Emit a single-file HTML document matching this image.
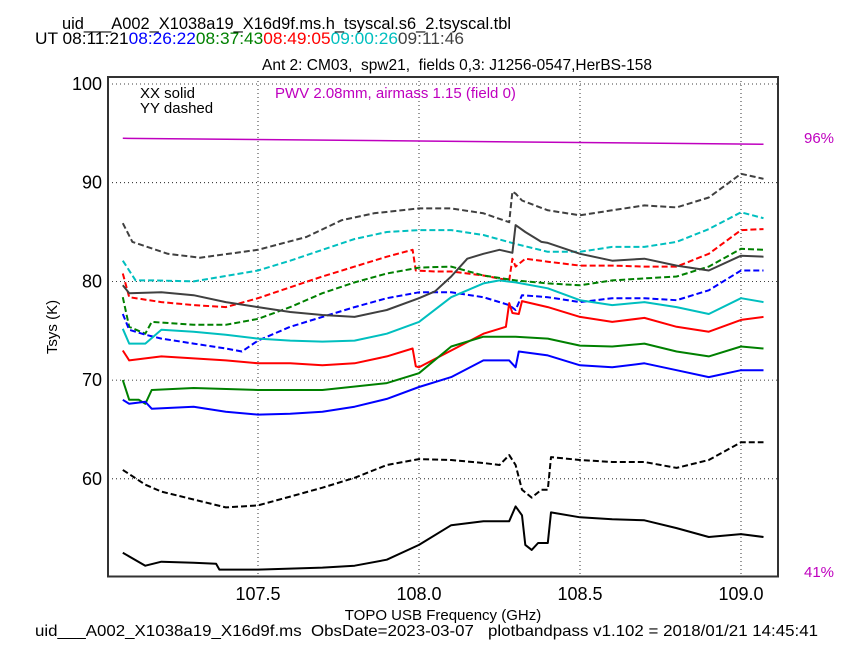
<!DOCTYPE html>
<html><head><meta charset="utf-8"><style>
body{margin:0;background:#fff;}
svg text{font-family:"Liberation Sans","DejaVu Sans",sans-serif;white-space:pre;}
</style></head><body>
<svg id="chart" width="864" height="648" viewBox="0 0 864 648" xmlns="http://www.w3.org/2000/svg" xml:space="preserve">
<rect width="864" height="648" fill="#fff"/>
<text x="62" y="29" font-size="16.4" textLength="449" lengthAdjust="spacingAndGlyphs">uid___A002_X1038a19_X16d9f.ms.h_tsyscal.s6_2.tsyscal.tbl</text>
<text x="35" y="44" font-size="16.4" textLength="429" lengthAdjust="spacingAndGlyphs"><tspan fill="#000">UT 08:11:21</tspan><tspan fill="#0000ff">08:26:22</tspan><tspan fill="#008000">08:37:43</tspan><tspan fill="#ff0000">08:49:05</tspan><tspan fill="#00bfbf">09:00:26</tspan><tspan fill="#404040">09:11:46</tspan></text>
<text x="457" y="70" font-size="16" text-anchor="middle" textLength="390" lengthAdjust="spacingAndGlyphs">Ant 2: CM03,  spw21,  fields 0,3: J1256-0547,HerBS-158</text>
<g id="grid"></g>
<g id="series"></g>
<rect x="108" y="77" width="670" height="499.5" fill="none" stroke="#333" stroke-width="2"/>
<g id="ticks"></g>
<text x="140" y="98" font-size="15">XX solid</text>
<text x="140" y="113" font-size="15">YY dashed</text>
<text x="275" y="98" font-size="15" fill="#bf00bf">PWV 2.08mm, airmass 1.15 (field 0)</text>
<text x="804" y="143" font-size="15" fill="#bf00bf">96%</text>
<text x="804" y="577" font-size="15" fill="#bf00bf">41%</text>
<text transform="translate(57,327) rotate(-90)" font-size="15" text-anchor="middle">Tsys (K)</text>
<text x="443" y="620" font-size="15" text-anchor="middle">TOPO USB Frequency (GHz)</text>
<text x="35" y="636" font-size="16" textLength="783" lengthAdjust="spacingAndGlyphs">uid___A002_X1038a19_X16d9f.ms  ObsDate=2023-03-07   plotbandpass v1.102 = 2018/01/21 14:45:41</text>
</svg>
<script>
const xTicks=[107.5,108.0,108.5,109.0];
const xTickLabels=["107.5","108.0","108.5","109.0"];
const yTicks=[60,70,80,90,100];
const yTickLabels=["60","70","80","90","100"];
const pwvFreq=[107.08,109.07];
const pwvVal=[94.5,93.9];

const grayDashF=[107.08,107.11,107.22,107.32,107.5,107.65,107.76,107.86,108.0,108.1,108.2,108.28,108.29,108.3,108.32,108.4,108.5,108.6,108.7,108.8,108.9,109.0,109.07];
const grayDashV=[85.9,84.0,82.8,82.4,83.2,84.5,86.2,86.9,87.4,87.4,86.9,86.0,89.1,88.9,88.2,87.2,86.7,87.2,87.7,87.5,88.5,90.9,90.4];
const cyanDashF=[107.08,107.12,107.18,107.3,107.5,107.6,107.7,107.8,107.9,108.0,108.1,108.2,108.3,108.4,108.5,108.6,108.7,108.8,108.9,109.0,109.07];
const cyanDashV=[82.1,80.1,80.1,80.0,81.1,82.1,83.2,84.3,85.0,85.2,85.2,84.7,83.8,83.0,83.0,83.5,83.5,84.0,85.3,87.0,86.4];
const redDashF=[107.08,107.1,107.2,107.3,107.4,107.5,107.6,107.7,107.8,107.9,107.98,107.99,108.05,108.1,108.2,108.28,108.29,108.3,108.33,108.4,108.5,108.6,108.7,108.8,108.9,109.0,109.07];
const redDashV=[80.8,78.4,77.9,77.6,77.4,78.3,79.4,80.5,81.5,82.5,83.2,81.1,81.0,81.0,80.6,80.1,82.3,81.5,82.3,82.0,81.6,81.6,81.5,81.5,82.8,85.2,85.3];
const greenDashF=[107.08,107.1,107.15,107.17,107.3,107.4,107.5,107.6,107.7,107.8,107.9,108.0,108.1,108.2,108.3,108.4,108.5,108.6,108.7,108.8,108.9,109.0,109.07];
const greenDashV=[78.4,75.4,74.7,75.9,75.6,75.6,76.2,77.4,78.8,79.9,80.8,81.4,81.5,80.6,80.1,79.8,79.6,80.1,80.3,80.5,81.5,83.3,83.2];
const blueDashF=[107.08,107.1,107.15,107.2,107.3,107.4,107.45,107.5,107.6,107.7,107.8,107.9,108.0,108.1,108.2,108.28,108.3,108.32,108.4,108.5,108.6,108.7,108.8,108.9,109.0,109.07];
const blueDashV=[76.7,75.1,74.6,74.2,73.7,73.2,72.9,74.0,75.4,76.4,77.4,78.3,78.9,78.9,78.4,77.6,77.1,78.6,78.4,77.9,78.3,78.3,78.1,79.1,81.1,81.1];
const graySolidF=[107.08,107.1,107.2,107.3,107.4,107.5,107.6,107.7,107.8,107.9,108.0,108.05,108.1,108.15,108.2,108.25,108.29,108.3,108.33,108.38,108.4,108.5,108.6,108.7,108.8,108.9,109.0,109.07];
const graySolidV=[79.6,78.8,78.9,78.6,77.9,77.4,76.9,76.6,76.4,77.1,78.3,79.0,80.5,82.3,82.8,83.2,82.9,85.7,85.0,84.0,83.9,82.8,82.1,82.3,81.6,81.1,82.6,82.5];
const cyanSolidF=[107.08,107.1,107.15,107.2,107.3,107.4,107.5,107.6,107.7,107.8,107.9,108.0,108.1,108.2,108.25,108.3,108.4,108.5,108.6,108.7,108.8,108.9,109.0,109.07];
const cyanSolidV=[75.2,73.7,73.7,75.1,74.9,74.6,74.2,74.0,73.9,74.0,74.7,75.9,78.4,79.8,80.1,79.9,79.3,78.1,77.6,77.9,77.4,76.7,78.3,77.9];
const redSolidF=[107.08,107.1,107.2,107.3,107.4,107.5,107.6,107.7,107.8,107.9,107.98,107.99,108.0,108.1,108.2,108.27,108.28,108.29,108.31,108.32,108.4,108.5,108.6,108.7,108.8,108.9,109.0,109.07];
const redSolidV=[73.0,72.0,72.4,72.2,72.0,71.7,71.7,71.5,71.7,72.4,73.2,71.4,71.3,73.0,74.7,75.4,77.8,76.8,76.7,78.0,77.4,76.4,75.9,76.3,75.4,74.9,76.1,76.4];
const greenSolidF=[107.08,107.1,107.13,107.15,107.17,107.3,107.5,107.7,107.9,108.0,108.1,108.2,108.3,108.4,108.5,108.6,108.7,108.8,108.9,109.0,109.07];
const greenSolidV=[70.0,68.0,68.0,67.6,69.0,69.2,69.0,69.0,69.7,70.7,73.4,74.4,74.4,74.2,73.5,73.4,73.7,72.9,72.4,73.4,73.2];
const blueSolidF=[107.08,107.1,107.15,107.17,107.3,107.4,107.5,107.6,107.7,107.8,107.9,108.0,108.1,108.2,108.28,108.3,108.31,108.4,108.5,108.6,108.7,108.8,108.9,109.0,109.07];
const blueSolidV=[68.0,67.6,67.8,67.1,67.3,66.8,66.5,66.6,66.8,67.3,68.1,69.3,70.3,72.0,72.0,71.3,72.9,72.5,71.5,71.3,71.7,71.0,70.3,71.0,71.0];
const blackSolidF=[107.08,107.15,107.2,107.3,107.37,107.38,107.5,107.7,107.8,107.9,108.0,108.1,108.2,108.28,108.3,108.32,108.33,108.35,108.37,108.4,108.41,108.5,108.6,108.7,108.8,108.9,109.0,109.07];
const blackSolidV=[52.5,51.2,51.6,51.5,51.4,50.8,50.8,51.0,51.2,51.8,53.3,55.3,55.7,55.7,57.2,56.3,53.3,52.8,53.5,53.5,56.6,56.1,55.9,55.8,55.0,54.1,54.4,54.1];
const blackDashF=[107.08,107.15,107.2,107.3,107.4,107.5,107.6,107.7,107.8,107.9,108.0,108.1,108.2,108.25,108.28,108.3,108.32,108.35,108.38,108.4,108.41,108.5,108.6,108.7,108.8,108.9,109.0,109.07];
const blackDashV=[60.9,59.4,58.7,57.9,57.1,57.3,58.2,59.1,60.1,61.4,62.0,61.9,61.6,61.4,62.4,61.4,58.9,58.1,58.9,58.9,62.2,61.9,61.7,61.7,61.1,61.9,63.7,63.7];

const NS="http://www.w3.org/2000/svg";
function xs(f){return 258+(f-107.5)*322;}
function ys(v){return 84+(100-v)*9.87;}
function mk(tag,attrs){const e=document.createElementNS(NS,tag);for(const k in attrs)e.setAttribute(k,attrs[k]);return e;}
const grid=document.getElementById('grid'),ticks=document.getElementById('ticks'),ser=document.getElementById('series');
xTicks.forEach((t,i)=>{
  const g=mk('line',{x1:xs(t),x2:xs(t),y1:77,y2:576,stroke:'#000','stroke-width':0.8,'stroke-dasharray':'1,3'});
  
  
  grid.appendChild(g);
  const tk=mk('text',{x:xs(t),y:600,'font-size':18,'text-anchor':'middle'});
  tk.textContent=xTickLabels[i];
  
  
  ticks.appendChild(tk);
});
yTicks.forEach((t,i)=>{
  const g=mk('line',{x1:108,x2:778,y1:ys(t),y2:ys(t),stroke:'#000','stroke-width':0.8,'stroke-dasharray':'1,3'});
  
  
  grid.appendChild(g);
  const tk=mk('text',{x:102,y:ys(t)+6,'font-size':18,'text-anchor':'end'});
  tk.textContent=yTickLabels[i];
  
  
  ticks.appendChild(tk);
});
function draw(F,V,color,dashed,name,w){
  const d=F.map((f,i)=>(i?'L':'M')+xs(f).toFixed(1)+' '+ys(V[i]).toFixed(1)).join(' ');
  const p=mk('path',{d:d,fill:'none',stroke:color,'stroke-width':w||2,'stroke-linejoin':'round'});
  if(dashed)p.setAttribute('stroke-dasharray','6,3');
  
  
  ser.appendChild(p);
}
draw(pwvFreq,pwvVal,'#bf00bf',false,'transmission-line',1.5);
draw(grayDashF,grayDashV,'#404040',true,'series-0911-yy');
draw(cyanDashF,cyanDashV,'#00bfbf',true,'series-0900-yy');
draw(redDashF,redDashV,'#ff0000',true,'series-0849-yy');
draw(greenDashF,greenDashV,'#008000',true,'series-0837-yy');
draw(blueDashF,blueDashV,'#0000ff',true,'series-0826-yy');
draw(graySolidF,graySolidV,'#404040',false,'series-0911-xx');
draw(cyanSolidF,cyanSolidV,'#00bfbf',false,'series-0900-xx');
draw(redSolidF,redSolidV,'#ff0000',false,'series-0849-xx');
draw(greenSolidF,greenSolidV,'#008000',false,'series-0837-xx');
draw(blueSolidF,blueSolidV,'#0000ff',false,'series-0826-xx');
draw(blackDashF,blackDashV,'#000000',true,'series-0811-yy');
draw(blackSolidF,blackSolidV,'#000000',false,'series-0811-xx');
</script>
</body></html>
